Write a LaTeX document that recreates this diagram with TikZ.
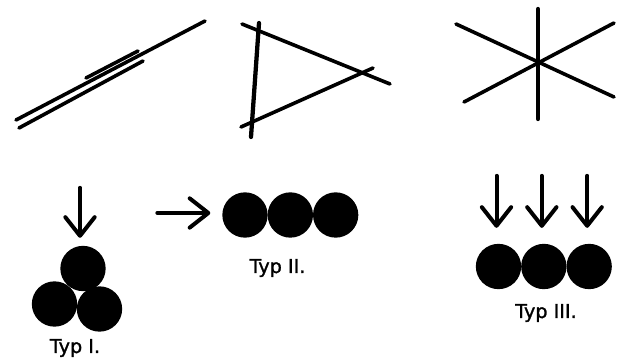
\documentclass[tikz,border=0pt]{standalone}
\usepackage{fontspec}
\setmainfont{DejaVu Sans}
\newfontfamily\typfont[FakeBold=1.3]{DejaVu Sans}
\usetikzlibrary{arrows.meta, positioning, calc}

\begin{document}
\begin{tikzpicture}[
  x=0.75pt, y=-0.75pt,
  node distance=0pt,
  stroke/.style={line width=2.7pt, line cap=round},
  heavy/.style={stroke, line width=3.2pt},
  ball/.style={circle, fill=black, minimum size=34pt, inner sep=0pt, outer sep=0pt},
  arr/.style={line width=3pt, line cap=round, -{Straight Barb[length=14pt, width=22pt, round]}},
  lbl/.style={font=\typfont\fontsize{14.4}{17}\selectfont, anchor=base, inner sep=0pt}
]
\useasboundingbox (0,0) rectangle (618,363);

% top row: three ways the lines can lie
\draw[stroke] (16,120) -- (205,21);
\draw[stroke] (19,128) -- (143,61);
\draw[stroke] (86,78) -- (138,51);

\draw[stroke] (242,24) -- (390,84);
\draw[heavy] (259,23) -- (251,137);
\draw[stroke] (241,127) -- (373,68);

\draw[heavy] (538,9) -- (538,119);
\draw[stroke] (456,24) -- (614,97);
\draw[stroke] (464,102) -- (614,23);

% Typ I: three balls stacked, pushed from above
\node[ball] (c11) at (83,268.5) {};
\node[ball] (c12) at (54.5,304) {};
\node[ball] (c13) at (99.5,309) {};
\node[lbl] (t1) at (75,353) {Typ I.};
\draw[arr] ($(c11.north)+(-3,-58)$) -- ($(c11.north)+(-3,-8)$);

% Typ II: a row, pushed from the side
\node[ball] (c21) at (245,215) {};
\node[ball, right=of c21] (c22) {};
\node[ball, right=of c22] (c23) {};
\node[lbl] (t2) at (277.5,273) {Typ II.};
\draw[arr] ($(c21.west)+(-65,-2)$) -- ($(c21.west)+(-12,-2)$);

% Typ III: a row, each ball pushed from above
\node[ball] (c31) at (498.5,266.5) {};
\node[ball, right=of c31] (c32) {};
\node[ball, right=of c32] (c33) {};
\node[lbl] (t3) at (546,318) {Typ III.};
\foreach \c in {c31,c32,c33}
  \draw[arr] ($(\c.north)+(-2,-68)$) -- ($(\c.north)+(-2,-16)$);
\end{tikzpicture}
\end{document}
